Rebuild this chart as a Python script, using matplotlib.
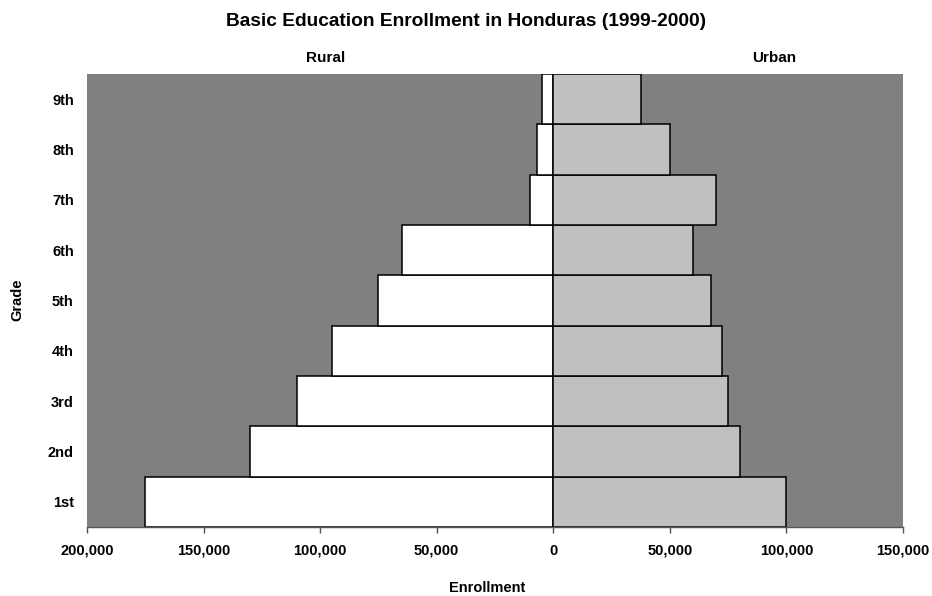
import matplotlib
matplotlib.use("Agg")
import matplotlib.pyplot as plt
from matplotlib.ticker import FuncFormatter

plt.rcParams['font.family'] = ['Liberation Sans', 'DejaVu Sans']

grades = ['1st', '2nd', '3rd', '4th', '5th', '6th', '7th', '8th', '9th']
rural = [175000, 130000, 110000, 95000, 75000, 65000, 10000, 7000, 5000]
urban = [100000, 80000, 75000, 72500, 67500, 60000, 70000, 50000, 37500]
xticks = [-200000, -150000, -100000, -50000, 0, 50000, 100000, 150000]

fig = plt.figure(figsize=(9.32, 5.96), dpi=100)
ax = fig.add_axes([87/932, 1 - 527/596, (903 - 87)/932, (527 - 74)/596])
ax.set_facecolor('#808080')

ypos = list(range(len(grades)))
ax.barh(ypos, [-v for v in rural], height=1.0, color='white', edgecolor='black', linewidth=1.1)
ax.barh(ypos, urban, height=1.0, color='#C0C0C0', edgecolor='black', linewidth=1.1)

ax.set_xlim(-200000, 150000)
ax.set_ylim(-0.5, len(grades) - 0.5)
ax.set_xticks(xticks)
ax.xaxis.set_major_formatter(FuncFormatter(lambda v, p: f"{abs(int(v)):,}"))
ax.set_yticks(ypos)
ax.set_yticklabels(grades)

for s in ['top', 'right', 'left']:
    ax.spines[s].set_visible(False)
ax.spines['bottom'].set_color('#555555')
ax.spines['bottom'].set_linewidth(1.0)

ax.tick_params(axis='x', length=4, width=1, color='#555555', pad=8, labelsize=10.5)
ax.tick_params(axis='y', length=0, pad=9.5, labelsize=10.5)
for lbl in ax.get_xticklabels() + ax.get_yticklabels():
    lbl.set_fontweight('bold')

fig.text(466/932, 1 - 21/596, 'Basic Education Enrollment in Honduras (1999-2000)',
         ha='center', va='center', fontsize=13.8, fontweight='bold')
fig.text(326/932, 1 - 58/596, 'Rural', ha='center', va='center', fontsize=11, fontweight='bold')
fig.text(774/932, 1 - 58/596, 'Urban', ha='center', va='center', fontsize=11, fontweight='bold')
fig.text(487/932, 1 - 588/596, 'Enrollment', ha='center', va='center', fontsize=10.5, fontweight='bold')
fig.text(17/932, 1 - 300/596, 'Grade', ha='center', va='center', rotation=90, fontsize=10.5, fontweight='bold')

fig.savefig('out.png', dpi=100)
